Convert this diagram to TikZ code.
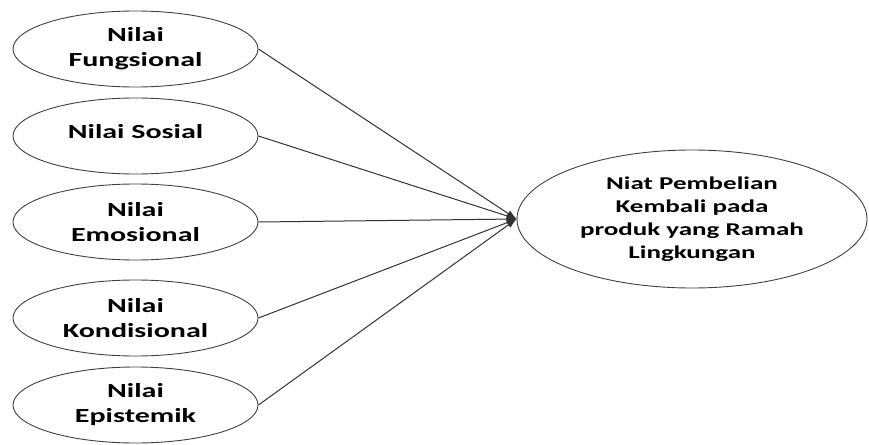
\documentclass[tikz,border=0pt]{standalone}
\usepackage{fontspec}
\setmainfont[FakeStretch=1.5]{Carlito}
\usepackage{tikz}
\usetikzlibrary{shapes.geometric, arrows.meta}
\tikzstyle{nilai}=[ellipse, draw=black!75, line width=0.9pt, minimum width=245pt, minimum height=76pt, inner sep=0pt, align=center, font=\fontsize{20}{25}\selectfont\bfseries]
\tikzstyle{niat}=[ellipse, draw=black!75, line width=0.9pt, minimum width=350pt, minimum height=138pt, inner sep=0pt, align=center, font=\fontsize{18}{23}\selectfont\bfseries]
\tikzstyle{link}=[line width=1pt, draw=black!80, -{Latex[length=10pt,width=7pt]}]

\begin{document}
\begin{tikzpicture}[x=1pt,y=-1pt]
    \useasboundingbox (0,0) rectangle (869,444);
    \node[nilai] (fungsional) at (135.5,49) {Nilai\\Fungsional};
    \node[nilai] (sosial) at (135.5,136) {\raisebox{9pt}{Nilai Sosial}};
    \node[nilai] (emosional) at (135.5,222) {Nilai\\Emosional};
    \node[nilai] (kondisional) at (135.5,318) {Nilai\\Kondisional};
    \node[nilai] (epistemik) at (135.5,405) {Nilai\\Epistemik};
    \node[niat] (beli) at (692,219) {Niat Pembelian\\Kembali pada\\produk yang Ramah\\Lingkungan};
    \draw[link] (fungsional.east) -- (beli.west);
    \draw[link] (sosial.east) -- (beli.west);
    \draw[link] (emosional.east) -- (beli.west);
    \draw[link] (kondisional.east) -- (beli.west);
    \draw[link] (epistemik.east) -- (beli.west);
\end{tikzpicture}
\end{document}
